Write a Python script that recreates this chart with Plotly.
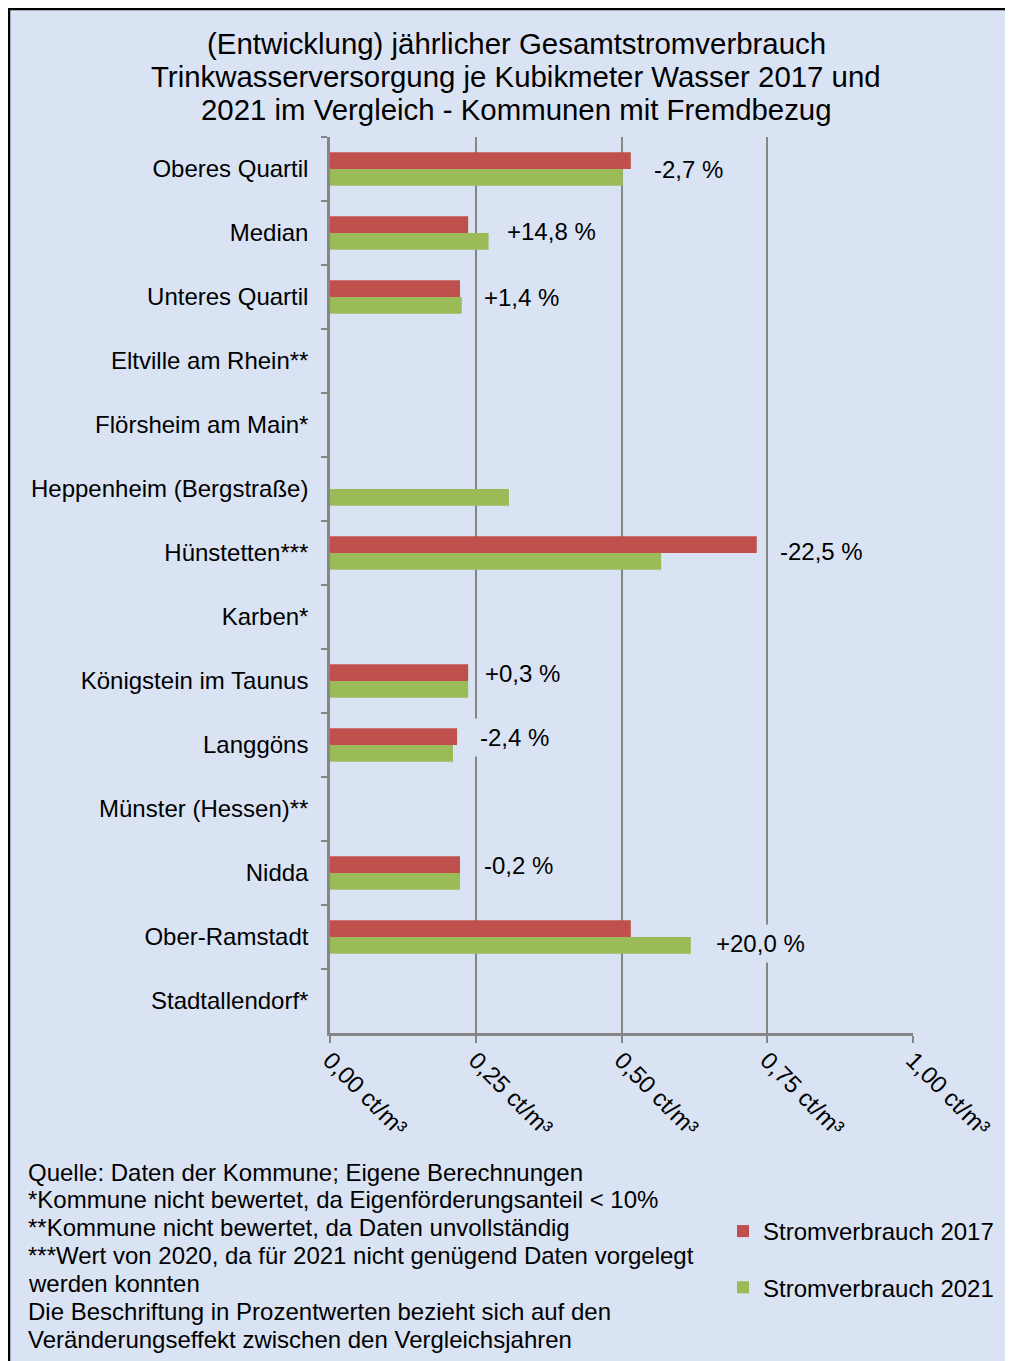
import plotly.graph_objects as go

categories = ["Oberes Quartil", "Median", "Unteres Quartil", "Eltville am Rhein**",
              "Flörsheim am Main*", "Heppenheim (Bergstraße)", "Hünstetten***", "Karben*",
              "Königstein im Taunus", "Langgöns", "Münster (Hessen)**", "Nidda",
              "Ober-Ramstadt", "Stadtallendorf*"]
values_2017 = [0.516, 0.237, 0.223, None, None, None, 0.732, None, 0.237, 0.218, None, 0.223, 0.516, None]
values_2021 = [0.502, 0.272, 0.226, None, None, 0.307, 0.568, None, 0.237, 0.211, None, 0.223, 0.619, None]
change_labels = ["-2,7 %", "+14,8 %", "+1,4 %", None, None, None, "-22,5 %", None,
                 "+0,3 %", "-2,4 %", None, "-0,2 %", "+20,0 %", None]
label_yshift = [0, 2, 0, 0, 0, 0, 2, 0, 8, 8, 0, 8, -6, 0]
label_xshift = [17, 12, 16, 0, 0, 0, 17, 0, 11, 17, 0, 18, 19, 0]

tick_vals = [0, 0.25, 0.5, 0.75, 1.0]
tick_text = ["0,00 ct/m³", "0,25 ct/m³", "0,50 ct/m³", "0,75 ct/m³", "1,00 ct/m³"]

title_lines = ["(Entwicklung) jährlicher Gesamtstromverbrauch",
               "Trinkwasserversorgung je Kubikmeter Wasser 2017 und",
               "2021 im Vergleich - Kommunen mit Fremdbezug"]
footnote_lines = ["Quelle: Daten der Kommune; Eigene Berechnungen",
                  "*Kommune nicht bewertet, da Eigenförderungsanteil &lt; 10%",
                  "**Kommune nicht bewertet, da Daten unvollständig",
                  "***Wert von 2020, da für 2021 nicht genügend Daten vorgelegt",
                  "werden konnten",
                  "Die Beschriftung in Prozentwerten bezieht sich auf den",
                  "Veränderungseffekt zwischen den Vergleichsjahren"]

BG = "#dae3f3"
RED = "#c0504d"
GREEN = "#9bbb59"
GRID = "#868686"
FONT = "Liberation Sans, Arial, sans-serif"

OFF = 8  # page offset of the figure inside the browser window
W, H = 1013 - OFF, 1361 - OFF
L = 330 - OFF
T = 137 - OFF
R = W - (913 - OFF)
B = H - (1033 - OFF)
PW, PH = W - L - R, H - T - B


def px_x(sx):
    return (sx - OFF - L) / PW


def px_y(sy):
    return (H - B - (sy - OFF)) / PH


fig = go.Figure()
fig.add_trace(go.Bar(y=categories, x=values_2017, orientation="h", name="Stromverbrauch 2017",
                     marker=dict(color=RED, line=dict(width=0)), legendgroup="a"))
fig.add_trace(go.Bar(y=categories, x=values_2021, orientation="h", name="Stromverbrauch 2021",
                     marker=dict(color=GREEN, line=dict(width=0)), legendgroup="b"))

annotations = []
for cat, a, b, lab, ys, xs in zip(categories, values_2017, values_2021, change_labels,
                                  label_yshift, label_xshift):
    if lab is None:
        continue
    xm = max(v for v in (a, b) if v is not None)
    annotations.append(dict(x=xm, y=cat, xref="x", yref="y", text=lab, showarrow=False,
                            xanchor="left", yanchor="middle", xshift=xs, yshift=ys,
                            bgcolor=BG, borderpad=5,
                            font=dict(family=FONT, size=24, color="black")))

for i, line in enumerate(title_lines):
    annotations.append(dict(x=px_x(516), y=px_y(43 + 33.5 * i), xref="paper", yref="paper",
                            text=line, showarrow=False, xanchor="center", yanchor="middle",
                            font=dict(family=FONT, size=29.4, color="black")))

for i, line in enumerate(footnote_lines):
    annotations.append(dict(x=px_x(26), y=px_y(1172 + 27.9 * i), xref="paper", yref="paper",
                            text=line, showarrow=False, xanchor="left", yanchor="middle",
                            font=dict(family=FONT, size=24, color="black")))

shapes = [
    dict(type="line", xref="paper", yref="paper", x0=px_x(9), x1=px_x(9), y0=px_y(8), y1=px_y(1361),
         line=dict(color="black", width=2.5)),
    dict(type="line", xref="paper", yref="paper", x0=px_x(8), x1=px_x(1013), y0=px_y(9), y1=px_y(9),
         line=dict(color="black", width=2.5)),
]

fig.update_layout(
    width=W, height=H,
    margin=dict(l=L, r=R, t=T, b=B, autoexpand=False),
    paper_bgcolor=BG, plot_bgcolor=BG,
    barmode="group", bargap=0.48, bargroupgap=0,
    font=dict(family=FONT, size=24, color="black"),
    showlegend=True,
    legend=dict(x=px_x(723), y=px_y(1209), xanchor="left", yanchor="top",
                bgcolor="rgba(0,0,0,0)", font=dict(family=FONT, size=24, color="black"),
                tracegroupgap=22, itemsizing="constant"),
    annotations=annotations,
    shapes=shapes,
    xaxis=dict(range=[0, 1], tickvals=tick_vals, ticktext=tick_text, tickangle=45,
               showgrid=True, gridcolor=GRID, gridwidth=1.5,
               showline=True, linecolor=GRID, linewidth=2.5,
               ticks="outside", ticklen=7, tickcolor=GRID, tickwidth=1.5,
               ticklabelstandoff=-6, automargin=False,
               zeroline=False, tickfont=dict(family=FONT, size=24, color="black"),
               fixedrange=True),
    yaxis=dict(autorange="reversed", type="category", showgrid=False,
               showline=True, linecolor=GRID, linewidth=2.5,
               ticks="outside", ticklen=6, tickcolor=GRID, tickwidth=1.5,
               tickson="boundaries", ticklabelstandoff=14, automargin=False,
               tickfont=dict(family=FONT, size=24, color="black"), fixedrange=True),
)

fig.write_html("out.html")
